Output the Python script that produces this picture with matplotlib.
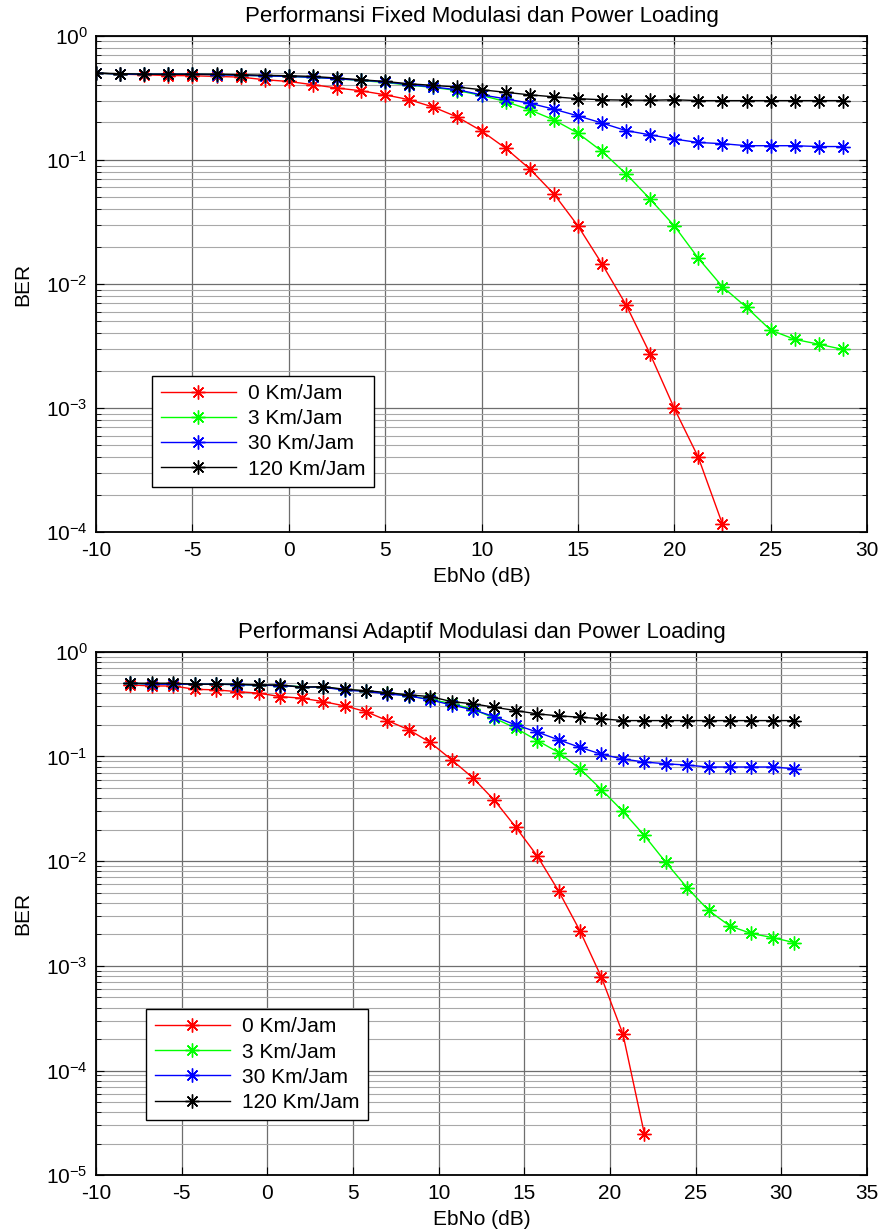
import numpy as np
import matplotlib
matplotlib.use('Agg')
from matplotlib import pyplot as plt
from matplotlib.ticker import LogLocator, NullFormatter

plt.rcParams['font.family'] = ['Liberation Sans', 'DejaVu Sans']
plt.rcParams['font.size'] = 15
plt.rcParams['axes.unicode_minus'] = False
plt.rcParams['mathtext.fontset'] = 'custom'
plt.rcParams['mathtext.rm'] = 'Liberation Sans'
plt.rcParams['mathtext.default'] = 'regular'

labels = ['0 Km/Jam', '3 Km/Jam', '30 Km/Jam', '120 Km/Jam']
warna = ['#ff0000', '#00ff00', '#0000ff', '#000000']

# --- Fixed modulasi ---
ebno_fixed = [-10, -8.75, -7.5, -6.25, -5, -3.75, -2.5, -1.25, 0, 1.25, 2.5, 3.75,
              5, 6.25, 7.5, 8.75, 10, 11.25, 12.5, 13.75, 15, 16.25, 17.5, 18.75,
              20, 21.25, 22.5, 23.75, 25, 26.25, 27.5, 28.75]

ber_fixed_0 = [0.50, 0.49, 0.485, 0.478, 0.476, 0.47, 0.464, 0.442, 0.428, 0.403,
               0.379, 0.36, 0.334, 0.305, 0.266, 0.221, 0.171, 0.124, 0.0846, 0.0532,
               0.0294, 0.0145, 0.00678, 0.00272, 0.000995, 0.0004, 0.000116]
ber_fixed_3 = [0.50, 0.49, 0.49, 0.49, 0.49, 0.485, 0.48, 0.475, 0.47, 0.462,
               0.45, 0.436, 0.42, 0.40, 0.383, 0.362, 0.33, 0.295, 0.253, 0.21,
               0.164, 0.117, 0.0771, 0.0482, 0.0294, 0.0161, 0.0095, 0.00648,
               0.00425, 0.00358, 0.00327, 0.00297]
ber_fixed_30 = [0.50, 0.49, 0.49, 0.49, 0.49, 0.485, 0.48, 0.475, 0.47, 0.462,
                0.45, 0.438, 0.425, 0.403, 0.386, 0.367, 0.334, 0.31, 0.286, 0.256,
                0.226, 0.198, 0.172, 0.159, 0.147, 0.138, 0.135, 0.130, 0.130,
                0.130, 0.128, 0.128]
ber_fixed_120 = [0.50, 0.495, 0.49, 0.49, 0.49, 0.49, 0.485, 0.48, 0.476, 0.47,
                 0.456, 0.442, 0.428, 0.41, 0.398, 0.386, 0.367, 0.35, 0.334, 0.322,
                 0.311, 0.305, 0.303, 0.302, 0.305, 0.30, 0.30, 0.30, 0.30, 0.30,
                 0.30, 0.30]

# --- Adaptif modulasi ---
ebno_adaptif = [-8, -6.75, -5.5, -4.25, -3, -1.75, -0.5, 0.75, 2, 3.25, 4.5, 5.75,
                7, 8.25, 9.5, 10.75, 12, 13.25, 14.5, 15.75, 17, 18.25, 19.5, 20.75,
                22, 23.25, 24.5, 25.75, 27, 28.25, 29.5, 30.75]

ber_adaptif_0 = [0.482, 0.471, 0.471, 0.438, 0.432, 0.416, 0.402, 0.373, 0.36, 0.334,
                 0.304, 0.268, 0.22, 0.18, 0.136, 0.093, 0.0623, 0.0381, 0.0211,
                 0.0112, 0.00518, 0.00215, 0.000776, 0.000224, 2.5e-5]
ber_adaptif_3 = [0.5, 0.49, 0.49, 0.49, 0.49, 0.485, 0.48, 0.475, 0.465, 0.46,
                 0.435, 0.42, 0.40, 0.38, 0.35, 0.32, 0.283, 0.232, 0.186, 0.142,
                 0.109, 0.0759, 0.0482, 0.0299, 0.0176, 0.00977, 0.00557, 0.00339,
                 0.0024, 0.00204, 0.00186, 0.00167]
ber_adaptif_30 = [0.5, 0.49, 0.49, 0.49, 0.49, 0.485, 0.48, 0.475, 0.462, 0.458,
                  0.43, 0.418, 0.395, 0.379, 0.347, 0.31, 0.279, 0.24, 0.2, 0.171,
                  0.144, 0.122, 0.105, 0.0945, 0.0885, 0.0851, 0.0827, 0.0793,
                  0.0793, 0.0793, 0.0793, 0.0763]
ber_adaptif_120 = [0.5, 0.5, 0.5, 0.49, 0.49, 0.49, 0.482, 0.482, 0.458, 0.464,
                   0.438, 0.425, 0.407, 0.387, 0.373, 0.334, 0.318, 0.295, 0.274,
                   0.255, 0.244, 0.237, 0.229, 0.22, 0.22, 0.22, 0.22, 0.22, 0.22,
                   0.22, 0.22, 0.22]

bintang = (8, 2, 0)  # asterisk seperti matlab


def gambar(ax, x, data, judul, xlim, ylim, xticks, leg_pos):
    for y, c, lab in zip(data, warna, labels):
        ax.semilogy(x[:len(y)], y, '-', marker=bintang, color=c, lw=1,
                    ms=10, mew=1, label=lab)
    ax.set_xlim(xlim)
    ax.set_ylim(ylim)
    ax.set_xticks(xticks)
    ax.yaxis.set_major_locator(LogLocator(base=10, numticks=10))
    ax.yaxis.set_minor_locator(LogLocator(base=10, subs=np.arange(2, 10), numticks=20))
    ax.yaxis.set_minor_formatter(NullFormatter())
    ax.grid(True, which='major', color='#6e6e6e', lw=0.9)
    ax.grid(True, which='minor', axis='y', color='#a8a8a8', lw=0.8)
    ax.tick_params(which='both', direction='in', top=True, right=True, labelsize=15)
    ax.tick_params(axis='x', pad=6)
    ax.tick_params(axis='y', pad=6)
    ax.tick_params(which='major', length=6)
    ax.tick_params(which='minor', length=3.5)
    for s in ax.spines.values():
        s.set_linewidth(1.3)
    ax.set_title(judul, fontsize=16, pad=10)
    ax.set_xlabel('EbNo (dB)', fontsize=15, labelpad=5)
    ax.set_ylabel('BER', fontsize=15, labelpad=10)
    leg = ax.legend(loc='lower left', bbox_to_anchor=leg_pos, numpoints=1,
                    handlelength=3.6, fancybox=False, framealpha=1,
                    edgecolor='k', borderpad=0.4, labelspacing=0.3,
                    borderaxespad=0, handletextpad=0.6, fontsize=15)
    leg.get_frame().set_linewidth(1.0)


fig = plt.figure(figsize=(8.82, 12.32), dpi=100)
ax1 = fig.add_axes([0.109, 0.568, 0.874, 0.403])
ax2 = fig.add_axes([0.109, 0.046, 0.874, 0.425])

gambar(ax1, ebno_fixed, [ber_fixed_0, ber_fixed_3, ber_fixed_30, ber_fixed_120],
       'Performansi Fixed Modulasi dan Power Loading', (-10, 30), (1e-4, 1),
       range(-10, 31, 5), (0.073, 0.091))
gambar(ax2, ebno_adaptif, [ber_adaptif_0, ber_adaptif_3, ber_adaptif_30, ber_adaptif_120],
       'Performansi Adaptif Modulasi dan Power Loading', (-10, 35), (1e-5, 1),
       range(-10, 36, 5), (0.065, 0.105))

plt.savefig('out.png', dpi=100)
